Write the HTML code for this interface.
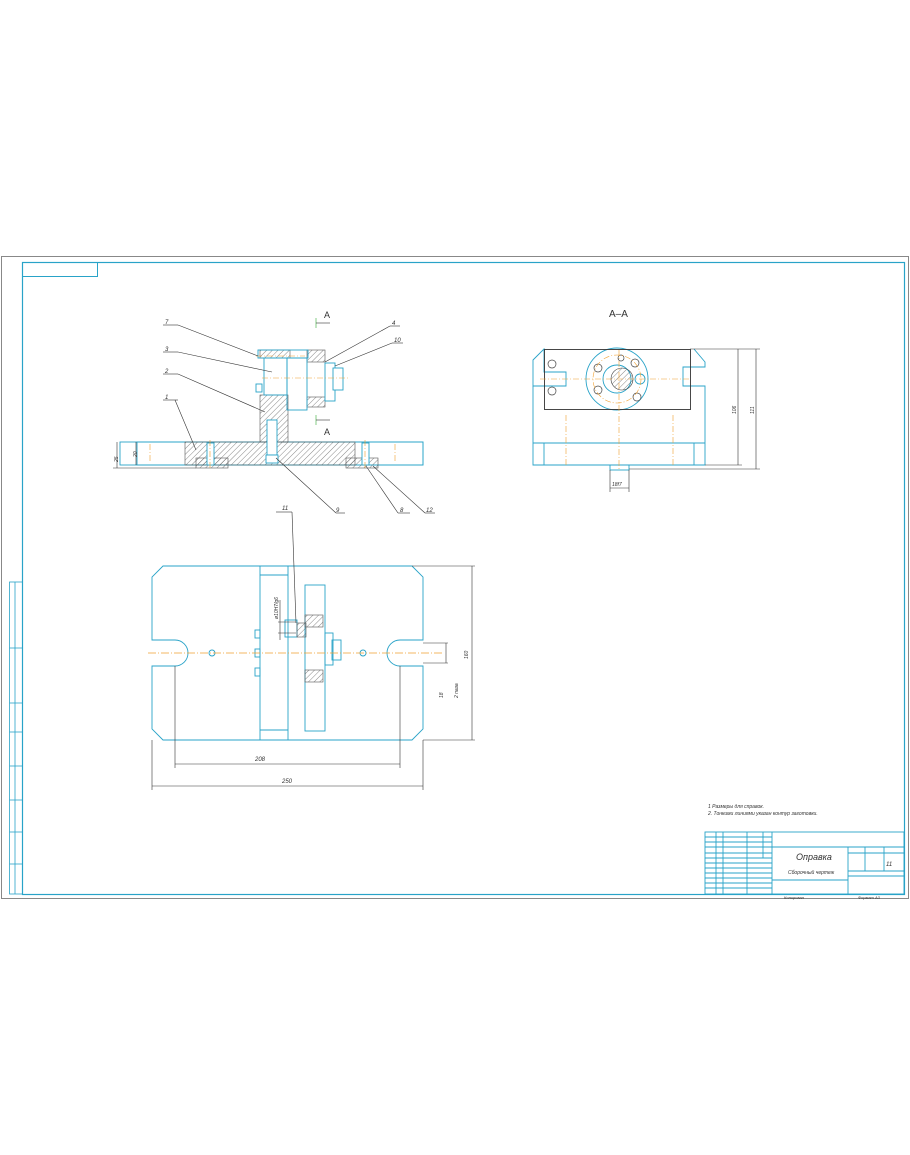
<!DOCTYPE html>
<html><head><meta charset="utf-8"><style>
html,body{margin:0;padding:0;background:#fff;}
svg{display:block;}
text{font-family:"Liberation Sans",sans-serif;font-style:italic;fill:#333;}
</style></head><body>
<svg width="910" height="1155" viewBox="0 0 910 1155" xmlns="http://www.w3.org/2000/svg">
<defs>
<pattern id="h" width="4" height="4" patternUnits="userSpaceOnUse" patternTransform="rotate(45)">
<line x1="0" y1="0" x2="0" y2="4" stroke="#555" stroke-width="0.7"/></pattern>
</defs>
<!-- sheet -->
<rect x="1.5" y="256.5" width="907" height="642" fill="none" stroke="#888" stroke-width="1"/>
<rect x="22.5" y="262.5" width="882" height="632" fill="none" stroke="#29a3c8" stroke-width="1.2"/>
<rect x="22.5" y="262.5" width="75" height="14" fill="none" stroke="#29a3c8"/>
<!-- left strip -->
<g stroke="#29a3c8" fill="none" stroke-width="0.8">
<rect x="9.5" y="582" width="13" height="312"/>
<line x1="15" y1="582" x2="15" y2="894"/>
<line x1="9.5" y1="648" x2="22.5" y2="648"/>
<line x1="9.5" y1="703" x2="22.5" y2="703"/>
<line x1="9.5" y1="732" x2="22.5" y2="732"/>
<line x1="9.5" y1="766" x2="22.5" y2="766"/>
<line x1="9.5" y1="800" x2="22.5" y2="800"/>
<line x1="9.5" y1="832" x2="22.5" y2="832"/>
<line x1="9.5" y1="864" x2="22.5" y2="864"/>
</g>
<!-- title block -->
<g stroke="#29a3c8" fill="none" stroke-width="0.9">
<rect x="705" y="832" width="199" height="62"/>
<line x1="772" y1="832" x2="772" y2="894"/>
<line x1="848" y1="847" x2="848" y2="894"/>
<line x1="772" y1="847" x2="904" y2="847"/>
<line x1="848" y1="853" x2="904" y2="853"/>
<line x1="848" y1="871" x2="904" y2="871"/>
<line x1="848" y1="876" x2="904" y2="876"/>
<line x1="772" y1="880" x2="848" y2="880"/>
<line x1="865" y1="847" x2="865" y2="871"/>
<line x1="884" y1="847" x2="884" y2="871"/>
<line x1="716" y1="832" x2="716" y2="894"/>
<line x1="723" y1="832" x2="723" y2="894"/>
<line x1="747" y1="832" x2="747" y2="894"/>
<line x1="763" y1="832" x2="763" y2="858"/>
<line x1="705" y1="837" x2="772" y2="837"/>
<line x1="705" y1="842" x2="772" y2="842"/>
<line x1="705" y1="847" x2="772" y2="847"/>
<line x1="705" y1="853" x2="772" y2="853"/>
<line x1="705" y1="858" x2="772" y2="858"/>
<line x1="705" y1="863" x2="772" y2="863"/>
<line x1="705" y1="868" x2="772" y2="868"/>
<line x1="705" y1="873" x2="772" y2="873"/>
<line x1="705" y1="878" x2="772" y2="878"/>
<line x1="705" y1="883" x2="772" y2="883"/>
<line x1="705" y1="888" x2="772" y2="888"/>
</g>
<text x="796" y="860" font-size="9">Оправка</text>
<text x="788" y="874" font-size="5">Сборочный чертеж</text>
<text x="886" y="866" font-size="6">11</text>
<text x="784" y="899" font-size="4">Копировал</text>
<text x="858" y="899" font-size="4">Формат  А3</text>
<text x="708" y="808" font-size="5">1 Размеры для справок.</text>
<text x="708" y="815" font-size="5">2. Тонкими линиями указан контур заготовки.</text>

<!-- FRONT SECTION VIEW -->
<g stroke="#29a3c8" fill="none" stroke-width="0.9">
<rect x="120" y="442" width="303" height="23"/>
<rect x="137" y="442" width="286" height="23"/>
</g>
<g stroke="#555" stroke-width="0.6">
<path d="M185 442 H355 V465 H185 Z" fill="url(#h)"/>
<rect x="196" y="458" width="32" height="10" fill="url(#h)"/>
<rect x="346" y="458" width="32" height="10" fill="url(#h)"/>
<rect x="260" y="395" width="28" height="47" fill="url(#h)"/>
<rect x="260" y="350" width="30" height="8" fill="url(#h)"/>
<rect x="307" y="350" width="18" height="12" fill="url(#h)"/>
<rect x="307" y="397" width="18" height="10" fill="url(#h)"/>
</g>
<g stroke="#29a3c8" fill="#fff" stroke-width="0.9">
<rect x="207" y="443" width="7" height="22"/>
<rect x="362" y="443" width="7" height="22"/>
<rect x="267" y="420" width="10" height="35"/>
<rect x="266" y="455" width="12" height="8"/>
<rect x="264" y="358" width="23" height="37" fill="none"/>
<rect x="287" y="358" width="20" height="52" fill="none"/>
<rect x="258" y="350" width="50" height="8" fill="none"/>
<rect x="325" y="363" width="10" height="38"/>
<rect x="333" y="368" width="10" height="22"/>
<rect x="256" y="384" width="6" height="8"/>
</g>
<g stroke="#f0a030" stroke-width="0.6" stroke-dasharray="6,2,1,2">
<line x1="262" y1="378" x2="348" y2="378"/>
<line x1="256" y1="356" x2="305" y2="356"/>
<line x1="210" y1="440" x2="210" y2="470"/>
<line x1="365" y1="440" x2="365" y2="470"/>
<line x1="150" y1="444" x2="150" y2="462"/>
<line x1="395" y1="444" x2="395" y2="462"/>
</g>
<g stroke="#333" stroke-width="0.6" fill="none">
<line x1="316" y1="318" x2="316" y2="328" stroke="#3a3"/>
<line x1="316" y1="323" x2="330" y2="323"/>
<line x1="316" y1="415" x2="316" y2="425" stroke="#3a3"/>
<line x1="316" y1="420" x2="330" y2="420"/>
<line x1="163" y1="325" x2="178" y2="325"/><line x1="178" y1="325" x2="258" y2="356"/>
<line x1="163" y1="352" x2="178" y2="352"/><line x1="178" y1="352" x2="272" y2="372"/>
<line x1="163" y1="374" x2="178" y2="374"/><line x1="178" y1="374" x2="265" y2="412"/>
<line x1="163" y1="400" x2="178" y2="400"/><line x1="175" y1="400" x2="196" y2="450"/>
<line x1="390" y1="326" x2="400" y2="326"/><line x1="390" y1="326" x2="325" y2="362"/>
<line x1="392" y1="343" x2="403" y2="343"/><line x1="392" y1="343" x2="335" y2="366"/>
<line x1="240" y1="510" x2="0" y2="0" stroke="none"/>
<line x1="336" y1="513" x2="345" y2="513"/><line x1="336" y1="513" x2="276" y2="458"/>
<line x1="398" y1="513" x2="410" y2="513"/><line x1="398" y1="513" x2="366" y2="466"/>
<line x1="425" y1="513" x2="435" y2="513"/><line x1="425" y1="513" x2="373" y2="466"/>
<line x1="117" y1="442" x2="117" y2="468"/>
<line x1="113" y1="468" x2="196" y2="468"/>
<line x1="136" y1="442" x2="136" y2="465"/>
</g>
<text x="324" y="318" font-size="9" style="font-style:normal">A</text>
<text x="324" y="435" font-size="9" style="font-style:normal">A</text>
<text x="165" y="324" font-size="6">7</text>
<text x="165" y="351" font-size="6">3</text>
<text x="165" y="373" font-size="6">2</text>
<text x="165" y="399" font-size="6">1</text>
<text x="392" y="325" font-size="6">4</text>
<text x="394" y="342" font-size="6">10</text>
<text x="336" y="512" font-size="6">9</text>
<text x="400" y="512" font-size="6">8</text>
<text x="426" y="512" font-size="6">12</text>
<text x="112" y="460" font-size="5" transform="rotate(-90 116 458)">25</text>
<text x="131" y="455" font-size="5" transform="rotate(-90 135 453)">20</text>

<!-- A-A VIEW -->
<text x="609" y="317" font-size="10" style="font-style:normal">A–A</text>
<g stroke="#29a3c8" fill="none" stroke-width="0.9">
<path d="M533 360 L544 349 V372 H566 V386 H533 Z"/>
<path d="M533 386 V465 H705 V386 H683 V367 H705 V362 L694 349"/>
<line x1="533" y1="443" x2="705" y2="443"/>
<line x1="544" y1="443" x2="544" y2="465"/>
<line x1="694" y1="443" x2="694" y2="465"/>
<rect x="610" y="465" width="19" height="5"/>
<circle cx="617" cy="379" r="31"/>
<circle cx="617" cy="379" r="14"/>
<circle cx="640" cy="379" r="5"/>
</g>
<rect x="544.5" y="349.5" width="146" height="60" fill="none" stroke="#333" stroke-width="0.9"/>
<circle cx="622" cy="379" r="11" fill="url(#h)" stroke="#333" stroke-width="0.6"/>
<g stroke="#444" fill="none" stroke-width="0.7">
<circle cx="552" cy="364" r="4"/><circle cx="552" cy="391" r="4"/>
<circle cx="598" cy="368" r="4"/><circle cx="598" cy="390" r="4"/>
<circle cx="635" cy="363" r="4"/><circle cx="637" cy="397" r="4"/>
<circle cx="621" cy="358" r="3"/>
</g>
<g stroke="#f0a030" stroke-width="0.6" stroke-dasharray="6,2,1,2" fill="none">
<line x1="540" y1="379" x2="690" y2="379"/>
<line x1="619" y1="350" x2="619" y2="470"/>
<line x1="566" y1="415" x2="566" y2="465"/>
<line x1="673" y1="415" x2="673" y2="465"/>
<circle cx="617" cy="379" r="24"/>
</g>
<g stroke="#333" stroke-width="0.6">
<line x1="690" y1="349" x2="760" y2="349"/>
<line x1="705" y1="465" x2="742" y2="465"/>
<line x1="629" y1="469" x2="760" y2="469"/>
<line x1="738" y1="349" x2="738" y2="465"/>
<line x1="756" y1="349" x2="756" y2="469"/>
<line x1="610" y1="470" x2="610" y2="492"/>
<line x1="629" y1="470" x2="629" y2="492"/>
<line x1="610" y1="488" x2="629" y2="488"/>
</g>
<text x="612" y="486" font-size="5">18f7</text>
<text x="730" y="412" font-size="5" transform="rotate(-90 734 410)">106</text>
<text x="748" y="412" font-size="5" transform="rotate(-90 752 410)">111</text>

<!-- PLAN VIEW -->
<g stroke="#29a3c8" fill="none" stroke-width="0.9">
<path d="M163 566 H412 L423 577 V640 H400 A13 13 0 0 0 400 666 H423 V729 L412 740 H163 L152 729 V666 H175 A13 13 0 0 0 175 640 H152 V577 Z"/>
<line x1="260" y1="566" x2="260" y2="740"/>
<line x1="288" y1="566" x2="288" y2="740"/>
<line x1="260" y1="575" x2="288" y2="575"/>
<line x1="260" y1="730" x2="288" y2="730"/>
<rect x="305" y="585" width="20" height="146"/>
<rect x="255" y="630" width="5" height="8"/>
<rect x="255" y="649" width="5" height="8"/>
<rect x="255" y="668" width="5" height="8"/>
<rect x="325" y="633" width="8" height="32"/>
<rect x="332" y="640" width="9" height="20"/>
<rect x="285" y="620" width="12" height="17"/>
<circle cx="212" cy="653" r="3"/><circle cx="363" cy="653" r="3"/>
</g>
<g stroke="#555" stroke-width="0.6">
<rect x="305" y="615" width="18" height="12" fill="url(#h)"/>
<rect x="305" y="670" width="18" height="12" fill="url(#h)"/>
<rect x="297" y="623" width="9" height="14" fill="url(#h)"/>
</g>
<line x1="148" y1="653" x2="444" y2="653" stroke="#f0a030" stroke-width="0.7" stroke-dasharray="8,2,1,2"/>
<g stroke="#333" stroke-width="0.6">
<line x1="175" y1="666" x2="175" y2="768"/>
<line x1="400" y1="666" x2="400" y2="768"/>
<line x1="175" y1="764" x2="400" y2="764"/>
<line x1="152" y1="740" x2="152" y2="790"/>
<line x1="423" y1="740" x2="423" y2="790"/>
<line x1="152" y1="786" x2="423" y2="786"/>
<line x1="412" y1="566" x2="475" y2="566"/>
<line x1="423" y1="740" x2="475" y2="740"/>
<line x1="472" y1="566" x2="472" y2="740"/>
<line x1="423" y1="643" x2="448" y2="643"/>
<line x1="423" y1="663" x2="448" y2="663"/>
<line x1="446" y1="643" x2="446" y2="663"/>
<line x1="278" y1="622" x2="296" y2="622"/>
<line x1="278" y1="633" x2="296" y2="633"/>
<line x1="280" y1="600" x2="280" y2="640"/>
<line x1="292" y1="512" x2="296" y2="623"/>
<line x1="276" y1="512" x2="292" y2="512"/>
</g>
<text x="282" y="510" font-size="6">11</text>
<text x="255" y="761" font-size="6">208</text>
<text x="282" y="783" font-size="6">250</text>
<text x="460" y="655" font-size="5" transform="rotate(-90 466 653)">160</text>
<text x="434" y="695" font-size="5" transform="rotate(-90 440 692)">18</text>
<text x="444" y="700" font-size="5" transform="rotate(-90 450 692)">2 паза</text>
<text x="263" y="612" font-size="5" transform="rotate(-90 274 608)">ø10H7/g6</text>
</svg>
</body></html>
